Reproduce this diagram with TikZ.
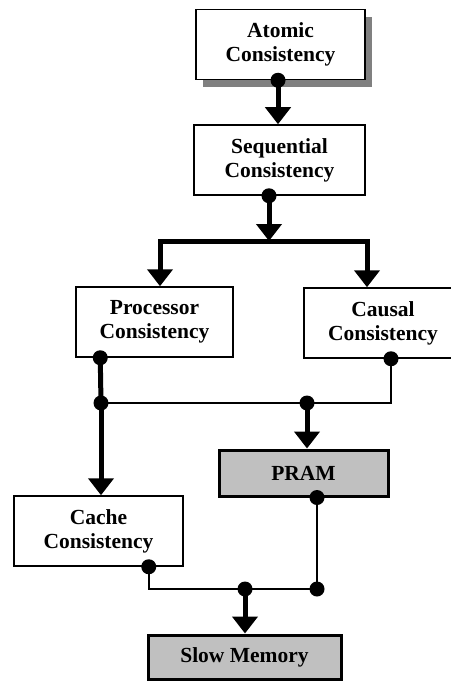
\documentclass[tikz,border=0pt]{standalone}
\usepackage{fontspec}
\setmainfont{Liberation Serif}
\usetikzlibrary{arrows.meta,calc}
\definecolor{boxgray}{HTML}{C0C0C0}
\definecolor{shadowgray}{HTML}{808080}
\begin{document}
\begin{tikzpicture}[x=1pt,y=-1pt,font=\bfseries\fontsize{21.5}{24}\selectfont,
  box/.style={draw,line width=1.5pt,fill=white,minimum height=70pt,align=center,inner sep=0pt},
  greybox/.style={draw,line width=3pt,fill=boxgray,inner sep=0pt},
  big/.style={line width=5pt},
  bigarrow/.style={line width=5pt,-{Triangle[width=25pt,length=17pt]}},
  link/.style={line width=2pt}]
  \useasboundingbox (0,0) rectangle (450,682);

  % Boxes
  \fill[shadowgray] (203,17) rectangle (372,87);
  \node[box,minimum width=169pt] (atomic) at (280.5,44.5) {Atomic\\Consistency};
  \node[box,minimum width=171pt] (seq) at (279.5,160) {Sequential\\Consistency};
  \node[box,minimum width=157pt] (proc) at (154.5,322) {Processor\\Consistency};
  \node[box,minimum width=158pt] (caus) at (383,323) {Causal\\Consistency};
  \node[greybox,minimum width=169pt,minimum height=46pt] (pram) at (303.5,473) {PRAM};
  \node[box,minimum width=169pt] (cache) at (98.5,531) {Cache\\Consistency};
  \node[greybox,minimum width=193pt,minimum height=44pt] (slow) at (244.5,657) {Slow Memory};

  % Outlets and junctions
  \coordinate (aout) at ([xshift=-2.5pt]atomic.south);
  \coordinate (sout) at ([xshift=-10.5pt]seq.south);
  \coordinate (pout) at ([xshift=25pt]proc.south west);
  \coordinate (cout) at ([xshift=8pt]caus.south);
  \coordinate (chout) at ([xshift=-35pt]cache.south east);
  \coordinate (prout) at ([xshift=13.5pt]pram.south);
  \coordinate (fork) at (269,241);
  \coordinate (j1) at (101,403);
  \coordinate (j2) at (307,403);
  \coordinate (k2) at (245,589);
  \coordinate (k3) at (317,589);

  % Connectors
  \draw[bigarrow] (aout) -- (aout |- seq.north);
  \draw[bigarrow] (sout) -- (fork);
  \draw[big,{Triangle[width=25pt,length=17pt]}-{Triangle[width=25pt,length=17pt]}]
    ([xshift=5.5pt]proc.north) |- (fork) -| ([xshift=-16pt]caus.north);
  \draw[big] (pout) -- (j1);
  \draw[bigarrow] (j1) -- (j1 |- cache.north);
  \draw[link] (cout) |- (j1);
  \draw[bigarrow] (j2) -- (j2 |- pram.north);
  \draw[link] (chout) |- (k3);
  \draw[link] (prout) -- (k3);
  \draw[bigarrow] (k2) -- (k2 |- slow.north);

  \foreach \p in {aout,sout,pout,cout,chout,prout,j1,j2,k2,k3}
    \fill (\p) circle (7.5pt);
\end{tikzpicture}
\end{document}
